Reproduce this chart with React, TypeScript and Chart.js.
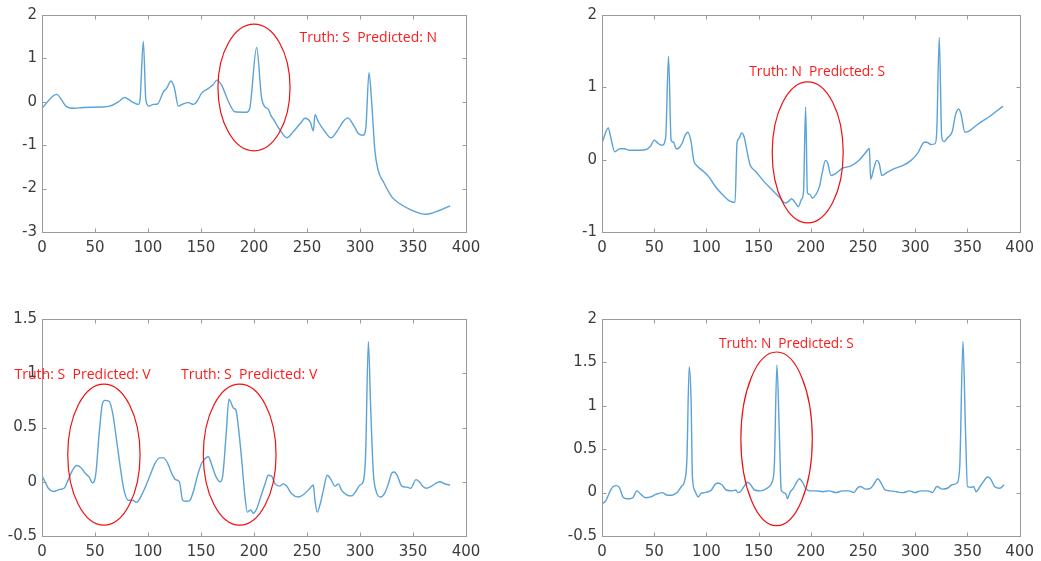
import React, { useEffect, useRef } from "react";
import { Chart, registerables } from "chart.js";

Chart.register(...registerables);

// ---------- data ----------
const xTicks = [0, 50, 100, 150, 200, 250, 300, 350, 400];
const tlYTicks = [-3, -2, -1, 0, 1, 2];
const trYTicks = [-1, 0, 1, 2];
const blYTicks = [-0.5, 0, 0.5, 1, 1.5];
const brYTicks = [-0.5, 0, 0.5, 1, 1.5, 2];

const tlSignal = [
  [0, -0.15], [13.8, 0.17], [18.6, 0.04], [23, -0.11], [31, -0.15], [39, -0.13], [55, -0.12], [64, -0.1],
  [72, 0.0], [78, 0.1], [85, 0.0], [91, -0.06], [92.5, 0.05], [95.6, 1.39], [98, 0.04], [101, -0.1],
  [105, -0.06], [109, -0.05], [114.5, 0.23], [117.6, 0.31], [121.7, 0.48], [125, 0.31], [128.6, -0.1],
  [133, -0.05], [138, -0.02], [143, -0.06], [146, 0], [150.6, 0.2], [157, 0.31], [161.6, 0.4], [165, 0.5],
  [169.5, 0.38], [176, 0], [182, -0.23], [193, -0.24], [196, -0.15], [202.5, 1.25], [207, 0.12],
  [210, -0.11], [213.5, -0.17], [215.7, -0.3], [219, -0.43], [224.5, -0.65], [231, -0.83], [237, -0.69],
  [245, -0.46], [248, -0.38], [253, -0.46], [256, -0.67], [257.5, -0.3], [260.7, -0.46], [267, -0.69],
  [272.6, -0.83], [278, -0.69], [284, -0.46], [288.4, -0.37], [293.7, -0.53], [298.4, -0.73], [303, -0.77],
  [305.5, -0.6], [308.5, 0.67], [311, 0.0], [314, -1.11], [317, -1.57], [322, -1.84], [330, -2.19],
  [337.7, -2.35], [347, -2.48], [356.6, -2.57], [363, -2.59], [372, -2.53], [380, -2.45], [385, -2.4],
];

const trSignal = [
  [0.6, 0.25], [3.8, 0.39], [6, 0.44], [8.2, 0.32], [12.2, 0.11], [17, 0.15], [21.6, 0.15], [26.4, 0.13],
  [35.8, 0.13], [43.6, 0.15], [46.7, 0.19], [50, 0.27], [54, 0.22], [57.7, 0.2], [61, 0.31], [63.7, 1.43],
  [66.2, 0.27], [68.7, 0.24], [71, 0.15], [73.4, 0.16], [76.5, 0.22], [79.7, 0.34], [82, 0.38], [85, 0.27],
  [88, -0.02], [90.7, -0.08], [98.5, -0.18], [103, -0.25], [108, -0.36], [115.8, -0.49], [122, -0.57],
  [127.4, -0.59], [129.3, 0.23], [131.5, 0.3], [133.6, 0.37], [136, 0.32], [139.3, 0.09], [141.8, -0.07],
  [147, -0.16], [155, -0.3], [163, -0.42], [170.7, -0.53], [175.4, -0.6], [178.5, -0.58], [181.6, -0.54],
  [184.8, -0.59], [188, -0.65], [191, -0.55], [193, -0.44], [195, 0.73], [196.7, -0.46], [199, -0.48],
  [201.4, -0.53], [204.5, -0.49], [208.3, -0.37], [210.8, -0.19], [214, -0.01], [216, -0.04], [219.3, -0.22],
  [224, -0.19], [230, -0.12], [238, -0.09], [246, -0.01], [255.4, 0.15], [256, 0.16], [257.3, -0.27],
  [260, -0.14], [263, -0.01], [265.4, -0.05], [268, -0.22], [272.6, -0.18], [280.5, -0.12], [288.3, -0.08],
  [296, -0.01], [302.4, 0.09], [308.7, 0.24], [311, 0.24], [315, 0.21], [319, 0.22], [320.6, 0.4],
  [323, 1.69], [325.3, 0.32], [327.5, 0.25], [330.7, 0.3], [335.4, 0.39], [338.5, 0.62], [341.6, 0.7],
  [344, 0.62], [347.5, 0.38], [351, 0.39], [359, 0.48], [365, 0.54], [371.5, 0.6], [377.7, 0.67], [384, 0.74],
];

const blSignal = [
  [0.3, 0.05], [2.8, 0.0], [6, -0.06], [10.7, -0.09], [17, -0.07], [20.8, -0.06], [24.8, 0.02], [29, 0.11],
  [32.7, 0.15], [36.8, 0.13], [40.6, 0.08], [44.7, 0.04], [47.5, -0.01], [50.6, 0.06], [54, 0.45],
  [57, 0.72], [59.4, 0.75], [63.5, 0.74], [66.7, 0.63], [70.4, 0.38], [74.2, 0.11], [77.4, -0.08],
  [81.4, -0.17], [85.2, -0.17], [89.3, -0.19], [92.5, -0.15], [97, -0.06], [102, 0.06], [106.6, 0.17],
  [111.3, 0.22], [114.5, 0.22], [118.6, 0.17], [122.3, 0.08], [126, 0.02], [129.6, 0.0], [132.7, -0.17],
  [136.5, -0.18], [139.6, -0.17], [142.8, -0.09], [146.5, 0.05], [150.6, 0.17], [154.7, 0.22], [157, 0.23],
  [160, 0.16], [164, 0.05], [168, 0.0], [170.4, 0.05], [173.6, 0.42], [176.4, 0.76], [178.3, 0.73],
  [180.5, 0.68], [183, 0.66], [185.2, 0.51], [188.4, 0.2], [191.5, -0.14], [193.7, -0.28], [196.9, -0.26],
  [199.4, -0.29], [202.5, -0.25], [206.3, -0.14], [210.4, -0.02], [213.5, 0.06], [216.7, 0.05], [220, -0.02],
  [224, -0.04], [227.7, -0.02], [230.8, -0.04], [235.5, -0.11], [241.8, -0.14], [246.5, -0.12],
  [252.8, -0.06], [256, -0.03], [257.5, -0.17], [259.7, -0.28], [262.3, -0.21], [265.4, -0.08], [269, 0.06],
  [272.6, 0.02], [276.4, -0.04], [279.6, -0.02], [282.7, -0.08], [287.4, -0.12], [292, -0.13], [296, -0.09],
  [300, -0.03], [303, 0.0], [305.3, 0.25], [307.9, 1.29], [310, 0.7], [312.6, 0.08], [315, -0.08],
  [319.5, -0.14], [323.6, -0.1], [326.7, -0.02], [330, 0.08], [332.4, 0.09], [335.5, 0.05], [339.3, -0.04],
  [344, -0.05], [347.8, -0.06], [352.8, 0.02], [356, 0.0], [359, -0.04], [362.3, -0.06], [367.6, -0.04],
  [372.3, -0.01], [375.5, 0.0], [380, -0.02], [385, -0.03],
];

const brSignal = [
  [0.3, -0.13], [3.8, -0.09], [7.5, 0.01], [10.7, 0.07], [13.8, 0.08], [17, 0.05], [20, -0.05], [23.2, -0.07],
  [26.4, -0.07], [29.5, -0.06], [33.3, 0.02], [37.3, -0.02], [42, -0.06], [46.7, -0.05], [51.5, -0.02],
  [57.7, 0.0], [62.4, -0.03], [67, -0.03], [71.8, 0.0], [76, 0.07], [79, 0.13], [81.3, 0.38], [83.5, 1.45],
  [85.3, 1.07], [86.6, 0.18], [89, 0.02], [92.2, -0.05], [94.7, -0.01], [98, 0.0], [101.6, 0.01],
  [104.8, 0.03], [108, 0.09], [111, 0.11], [114.8, 0.09], [119, 0.03], [125, 0.02], [128.3, 0.03],
  [130, 0.0], [132.4, 0.01], [136, 0.07], [139.3, 0.12], [142.4, 0.09], [146, 0.03], [151.8, 0.02],
  [158, 0.05], [162.8, 0.12], [165, 0.3], [167.5, 1.47], [170, 0.61], [171.6, 0.03], [173.8, 0.0],
  [176.3, -0.02], [177.6, -0.07], [180, 0.0], [183.2, 0.05], [186.4, 0.12], [189, 0.16], [192, 0.12],
  [195, 0.05], [199, 0.02], [205, 0.02], [211.4, 0.01], [217.7, 0.02], [224, 0.0], [230.3, 0.02],
  [236.5, 0.02], [241.3, 0.0], [244.4, 0.05], [247.5, 0.07], [252.2, 0.04], [257, 0.05], [260, 0.09],
  [264, 0.16], [267.3, 0.11], [271, 0.03], [275.8, 0.02], [282, 0.01], [288.3, 0.0], [294.6, 0.02],
  [299.3, 0.0], [305.6, 0.02], [311.8, 0.02], [316.5, 0.0], [320.6, 0.07], [326, 0.04], [330.7, 0.05],
  [335.4, 0.09], [340, 0.11], [342.6, 0.3], [345.7, 1.74], [348, 0.76], [350, 0.07], [353.3, 0.06],
  [355.8, 0.07], [358.3, 0.01], [362, 0.07], [365, 0.12], [369, 0.18], [372, 0.16], [376, 0.07],
  [381, 0.05], [385, 0.09],
];

// annotations (data coordinates)
const tlEllipses = [{ cx: 200, cy: 0.33, rx: 34, ry: 1.46 }];
const trEllipses = [{ cx: 197, cy: 0.1, rx: 34, ry: 0.975 }];
const blEllipses = [
  { cx: 58.4, cy: 0.25, rx: 34.1, ry: 0.65 },
  { cx: 186.5, cy: 0.25, rx: 34.3, ry: 0.65 },
];
const brEllipses = [{ cx: 167.2, cy: 0.62, rx: 34.2, ry: 1.0 }];

const tlNotes = [{ text: "Truth: S  Predicted: N", x0: 243, x1: 372.6, y: 1.47 }];
const trNotes = [{ text: "Truth: N  Predicted: S", x0: 141, x1: 271, y: 1.216 }];
const blNotes = [
  { text: "Truth: S  Predicted: V", x0: -26, x1: 102.5, y: 0.984 },
  { text: "Truth: S  Predicted: V", x0: 131.1, x1: 259.7, y: 0.984 },
];
const brNotes = [{ text: "Truth: N  Predicted: S", x0: 112, x1: 241.2, y: 1.72 }];

// ---------- rendering ----------
const matlabPlugin = {
  id: "matlabBox",
  afterDraw(chart: any, _args: any, opts: any) {
    const { ctx, chartArea: a, scales } = chart;
    const xs = scales.x;
    const ys = scales.y;
    ctx.save();
    // box
    ctx.strokeStyle = "#9a9a9a";
    ctx.lineWidth = 1;
    const L = Math.round(a.left) + 0.5;
    const T = Math.round(a.top) + 0.5;
    const R = Math.round(a.right) + 0.5;
    const B = Math.round(a.bottom) + 0.5;
    ctx.strokeRect(L, T, R - L, B - T);
    const tl = 4;
    ctx.beginPath();
    xs.ticks.forEach((t: any) => {
      const p = Math.round(xs.getPixelForValue(t.value)) + 0.5;
      ctx.moveTo(p, B);
      ctx.lineTo(p, B - tl);
      ctx.moveTo(p, T);
      ctx.lineTo(p, T + tl);
    });
    ys.ticks.forEach((t: any) => {
      const p = Math.round(ys.getPixelForValue(t.value)) + 0.5;
      ctx.moveTo(L, p);
      ctx.lineTo(L + tl, p);
      ctx.moveTo(R, p);
      ctx.lineTo(R - tl, p);
    });
    ctx.stroke();

    // ellipses
    ctx.strokeStyle = "#f01010";
    ctx.lineWidth = 1.2;
    (opts.ellipses || []).forEach((e: any) => {
      const cx = xs.getPixelForValue(e.cx);
      const cy = ys.getPixelForValue(e.cy);
      const rx = Math.abs(xs.getPixelForValue(e.cx + e.rx) - cx);
      const ry = Math.abs(ys.getPixelForValue(e.cy + e.ry) - cy);
      ctx.beginPath();
      ctx.ellipse(cx, cy, rx, ry, 0, 0, Math.PI * 2);
      ctx.stroke();
    });

    // notes
    ctx.fillStyle = "#ff1a1a";
    ctx.font = '15px "Open Sans"';
    ctx.textBaseline = "middle";
    ctx.textAlign = "left";
    (opts.notes || []).forEach((n: any) => {
      const x0 = xs.getPixelForValue(n.x0);
      const x1 = xs.getPixelForValue(n.x1);
      const y = ys.getPixelForValue(n.y);
      const w = ctx.measureText(n.text).width;
      ctx.save();
      ctx.translate(x0, y);
      ctx.scale((x1 - x0) / w, 1);
      ctx.fillText(n.text, 0, 0);
      ctx.restore();
    });
    ctx.restore();
  },
};

type PanelProps = {
  left: number;
  top: number;
  width: number;
  height: number;
  padRight: number;
  signal: number[][];
  yTicks: number[];
  ellipses: any[];
  notes: any[];
};

function Panel(p: PanelProps) {
  const ref = useRef<HTMLCanvasElement | null>(null);
  useEffect(() => {
    if (!ref.current) return;
    const yMin = p.yTicks[0];
    const yMax = p.yTicks[p.yTicks.length - 1];
    const tickFont = { family: '"DejaVu Sans"', size: 15 };
    const chart = new Chart(ref.current, {
      type: "line",
      data: {
        datasets: [
          {
            data: p.signal.map(([x, y]) => ({ x, y })),
            borderColor: "#5ba2d8",
            borderWidth: 1.4,
            pointRadius: 0,
            fill: false,
            cubicInterpolationMode: "monotone",
          } as any,
        ],
      },
      plugins: [matlabPlugin],
      options: {
        responsive: false,
        animation: false,
        devicePixelRatio: window.devicePixelRatio || 1,
        layout: { padding: { top: 15, right: p.padRight, left: 0, bottom: 0 } },
        plugins: {
          legend: { display: false },
          tooltip: { enabled: false },
          matlabBox: { ellipses: p.ellipses, notes: p.notes },
        } as any,
        scales: {
          x: {
            type: "linear",
            min: 0,
            max: 400,
            grid: { display: false, drawTicks: false },
            border: { display: false },
            afterBuildTicks: (s: any) => {
              s.ticks = xTicks.map((v) => ({ value: v }));
            },
            afterFit: (s: any) => {
              s.height = 25;
            },
            ticks: {
              autoSkip: false,
              maxRotation: 0,
              padding: 7,
              color: "#3c3c3c",
              font: tickFont,
              callback: (v: any) => String(v),
            },
          },
          y: {
            type: "linear",
            min: yMin,
            max: yMax,
            grid: { display: false, drawTicks: false },
            border: { display: false },
            afterBuildTicks: (s: any) => {
              s.ticks = p.yTicks.map((v) => ({ value: v }));
            },
            afterFit: (s: any) => {
              s.width = 42;
            },
            ticks: {
              autoSkip: false,
              padding: 5,
              color: "#3c3c3c",
              font: tickFont,
              callback: (v: any) => String(v),
            },
          },
        },
      } as any,
    });
    return () => chart.destroy();
  }, []);
  return (
    <canvas
      ref={ref}
      width={p.width}
      height={p.height}
      style={{ position: "absolute", left: p.left, top: p.top, width: p.width, height: p.height }}
    />
  );
}

export default function App() {
  return (
    <div
      style={{
        position: "absolute",
        left: 0,
        top: 0,
        width: 1041,
        height: 561,
        background: "#ffffff",
        overflow: "hidden",
      }}
    >
      <Panel left={0} top={0} width={490} height={257} padRight={24} signal={tlSignal} yTicks={tlYTicks} ellipses={tlEllipses} notes={tlNotes} />
      <Panel left={560} top={0} width={481} height={257} padRight={14} signal={trSignal} yTicks={trYTicks} ellipses={trEllipses} notes={trNotes} />
      <Panel left={0} top={304} width={490} height={257} padRight={24} signal={blSignal} yTicks={blYTicks} ellipses={blEllipses} notes={blNotes} />
      <Panel left={560} top={304} width={481} height={257} padRight={14} signal={brSignal} yTicks={brYTicks} ellipses={brEllipses} notes={brNotes} />
    </div>
  );
}
